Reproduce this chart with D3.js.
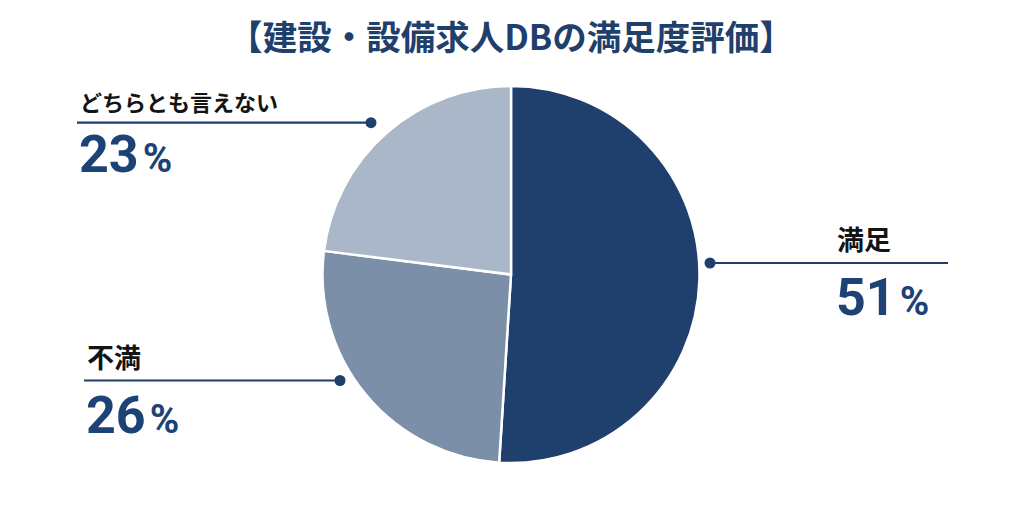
<!DOCTYPE html>
<html><head><meta charset="utf-8">
<script src="https://cdn.jsdelivr.net/npm/d3@7"></script>
<style>
html,body{margin:0;padding:0;background:#fff;}
svg{display:block;}
</style></head>
<body><svg id="c" width="1024" height="512"></svg>
<script>
const title = "【建設・設備求人DBの満足度評価】";
const categories = ["満足", "不満", "どちらとも言えない"];
const values = [51, 26, 23];
const colors = ["#1f3f6c", "#7b8fa9", "#a9b7c9"];

const svg = d3.select("#c");
const cx = 511, cy = 274.5, R = 188.5;
const navy = "#1f3f6c";
const numColor = "#1c4276";
const jp = "'Noto Sans CJK JP', 'Noto Sans', sans-serif";

svg.append("text").attr("x", 511).attr("y", 50).attr("text-anchor", "middle")
  .attr("font-family", jp).attr("font-weight", 700).attr("font-size", 34.5)
  .attr("fill", navy).text(title);

const pie = d3.pie().sort(null).value(d => d)(values);
const arc = d3.arc().innerRadius(0).outerRadius(R);
svg.append("g").attr("transform", `translate(${cx},${cy})`)
  .selectAll("path").data(pie).join("path")
  .attr("d", arc).attr("fill", (d, i) => colors[i])
  .attr("stroke", "#fff").attr("stroke-width", 2.5).attr("stroke-linejoin", "round");

// label layout (positions only)
const layout = [
  {x1: 710, x2: 948, ly: 263, dot: 710, tx: 837, nameY: 250, nameSize: 27, pctY: 315},
  {x1: 84, x2: 340, ly: 380.5, dot: 340, tx: 87, nameY: 368, nameSize: 27, pctY: 433},
  {x1: 77, x2: 371, ly: 122.7, dot: 371, tx: 80, nameY: 111, nameSize: 22, pctY: 172}
];

categories.forEach((c, i) => {
  const L = layout[i];
  const g = svg.append("g");
  g.append("line").attr("x1", L.x1).attr("x2", L.x2).attr("y1", L.ly).attr("y2", L.ly)
    .attr("stroke", navy).attr("stroke-width", 2.2);
  g.append("circle").attr("cx", L.dot).attr("cy", L.ly).attr("r", 5.5).attr("fill", navy);
  g.append("text").attr("x", L.tx).attr("y", L.nameY)
    .attr("font-family", jp).attr("font-weight", 700).attr("font-size", L.nameSize)
    .attr("fill", "#141414").text(c);
  const t = g.append("text").attr("x", L.tx - 1).attr("y", L.pctY)
    .attr("font-family", "Roboto, sans-serif").attr("font-weight", 700).attr("fill", numColor);
  t.append("tspan").attr("font-size", 52).text(values[i]);
  t.append("tspan").attr("font-size", 40).attr("dx", 4).text("%");
});
</script></body></html>
